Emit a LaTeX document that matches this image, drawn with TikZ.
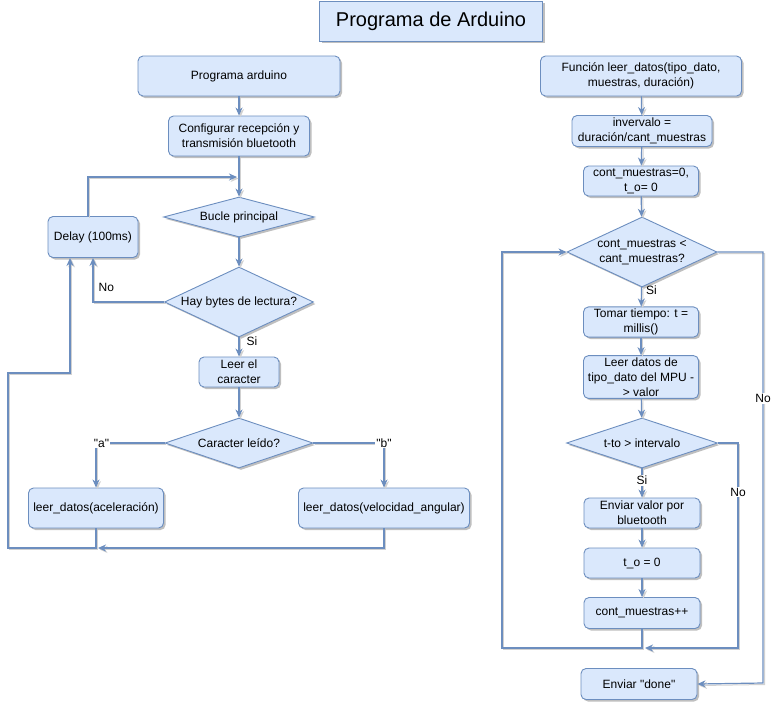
\documentclass[tikz,border=0pt]{standalone}
\usepackage{fontspec}
\setmainfont{Liberation Sans}[Ligatures=TeXOff]
\usetikzlibrary{shapes.geometric,arrows.meta,shadows}
\definecolor{bfill}{RGB}{218,232,252}
\definecolor{bdraw}{RGB}{108,142,191}
\tikzset{
  box/.style={draw=bdraw, fill=bfill, rounded corners=5pt, align=center, inner sep=2pt,
    line width=0.9pt, font=\fontsize{12}{15}\selectfont,
    drop shadow={shadow xshift=2pt, shadow yshift=-2pt, opacity=0.25, fill=black}},
  dec/.style={draw=bdraw, fill=bfill, diamond, inner sep=0pt, line width=0.9pt,
    drop shadow={shadow xshift=2pt, shadow yshift=-2pt, opacity=0.25, fill=black}},
  dtext/.style={align=center, font=\fontsize{12}{15}\selectfont},
  arr/.style={draw=bdraw, line width=1.2pt, -{Stealth[length=8pt,width=7pt,inset=2.5pt]},
    preaction={draw=black!18, line width=1pt, transform canvas={shift={(1.5pt,-1.5pt)}}}},
  lbl/.style={font=\fontsize{12}{14}\selectfont, inner sep=1pt}
}
\begin{document}
\begin{tikzpicture}[x=1pt,y=-1pt]
\useasboundingbox[fill=white] (0,0) rectangle (775,704);

% title
\node[box, rounded corners=0pt, minimum width=223pt, minimum height=40pt, font=\fontsize{20}{24}\selectfont] (title) at (431,21) {Programa de Arduino};

% left column
\node[box, minimum width=202pt, minimum height=40pt] (pa) at (239,76) {Programa arduino};
\node[box, minimum width=141pt, minimum height=40pt] (cfg) at (239,136) {Configurar recepción y\\transmisión bluetooth};
\node[dec, minimum width=151pt, minimum height=40pt] (bucle) at (239,217) {};
\node[dtext] (bucleT) at (bucle.center) {Bucle principal};
\node[box, minimum width=90pt, minimum height=41pt] (delay) at (93,237) {Delay (100ms)};
\node[dec, minimum width=149pt, minimum height=70pt] (hay) at (239,302) {};
\node[dtext] (hayT) at (hay.center) {Hay bytes de lectura?};
\node[box, minimum width=80pt, minimum height=30pt] (leer) at (239,372) {Leer el\\caracter};
\node[dec, minimum width=148pt, minimum height=50pt] (car) at (239,443) {};
\node[dtext] (carT) at (car.center) {Caracter leído?};
\node[box, minimum width=135pt, minimum height=40pt] (acel) at (96,508) {leer\_datos(aceleración)};
\node[box, minimum width=171pt, minimum height=40pt] (vel) at (384,508) {leer\_datos(velocidad\_angular)};

\coordinate (j1) at (237,177);
\coordinate (lb) at (8,548);
\coordinate (lc) at (70,373);
\coordinate (lv) at (98,548);

\draw[arr] (pa) -- (cfg);
\draw[arr] (cfg) -- (bucle);
\draw[arr] ([xshift=-5pt]delay.north) |- (j1);
\draw[arr] (bucle) -- (hay);
\draw[arr] (hay.west) -| node[lbl, pos=0.66, anchor=west, xshift=4pt] {No} (delay.south);
\draw[arr] (hay) -- node[lbl, pos=0.2, anchor=west, xshift=6pt] {Si} (leer);
\draw[arr] (leer) -- (car);
\draw[arr] (car.west) -| node[lbl, pos=0.46, fill=white] {"a"} (acel.north);
\draw[arr] (car.east) -| node[lbl, pos=0.5, fill=white] {"b"} (vel.north);
\draw[arr] (acel.south) |- (lb) |- (lc) -- ([xshift=-23pt]delay.south);
\draw[arr] (vel.south) |- (lv);

% right column
\node[box, minimum width=201pt, minimum height=40pt] (fn) at (641,76) {Función leer\_datos(tipo\_dato,\\muestras, duración)};
\node[box, minimum width=140pt, minimum height=31pt] (intv) at (642,131) {invervalo =\\duración/cant\_muestras};
\node[box, minimum width=115pt, minimum height=30pt] (init) at (641,181) {cont\_muestras=0,\\t\_o= 0};
\node[dec, minimum width=150pt, minimum height=70pt] (cond) at (642,252) {};
\node[dtext] (condT) at (cond.center) {cont\_muestras <\\cant\_muestras?};
\node[box, minimum width=115pt, minimum height=30pt] (tomar) at (641,322) {Tomar tiempo: t =\\millis()};
\node[box, minimum width=115pt, minimum height=40pt] (lee) at (641,377) {Leer datos de\\tipo\_dato del MPU -\\> valor};
\node[dec, minimum width=151pt, minimum height=50pt] (tcond) at (642,443) {};
\node[dtext] (tcondT) at (tcond.center) {t-to > intervalo};
\node[box, minimum width=116pt, minimum height=30pt] (env) at (642,513) {Enviar valor por\\bluetooth};
\node[box, minimum width=116pt, minimum height=30pt] (t0) at (642,563) {t\_o = 0};
\node[box, minimum width=116pt, minimum height=31pt] (cinc) at (642,613) {cont\_muestras++};
\node[box, minimum width=116pt, minimum height=31pt] (done) at (639,684) {Enviar "done"};

\coordinate (rl) at (502,648);
\coordinate (rn) at (738,648);
\coordinate (rm) at (645,648);
\coordinate (rd) at (763,683);

\draw[arr] (fn) -- (intv);
\draw[arr] (intv) -- (init);
\draw[arr] (init) -- (cond);
\draw[arr] (cond) -- node[lbl, pos=0.15, anchor=west, xshift=3pt] {Si} (tomar);
\draw[arr] (tomar) -- (lee);
\draw[arr] (lee) -- (tcond);
\draw[arr] (tcond) -- node[lbl, pos=0.4, fill=white] {Si} (env);
\draw[arr] (env) -- (t0);
\draw[arr] (t0) -- (cinc);
\draw[arr] (cinc.south) |- (rl) |- (cond.west);
\draw[arr] (tcond.east) -| node[lbl, pos=0.62, fill=white] {No} (rn) -- (rm);
\draw[arr] (cond.east) -| node[lbl, pos=0.67, fill=white] {No} (rd) -- (done.east);
\end{tikzpicture}
\end{document}
